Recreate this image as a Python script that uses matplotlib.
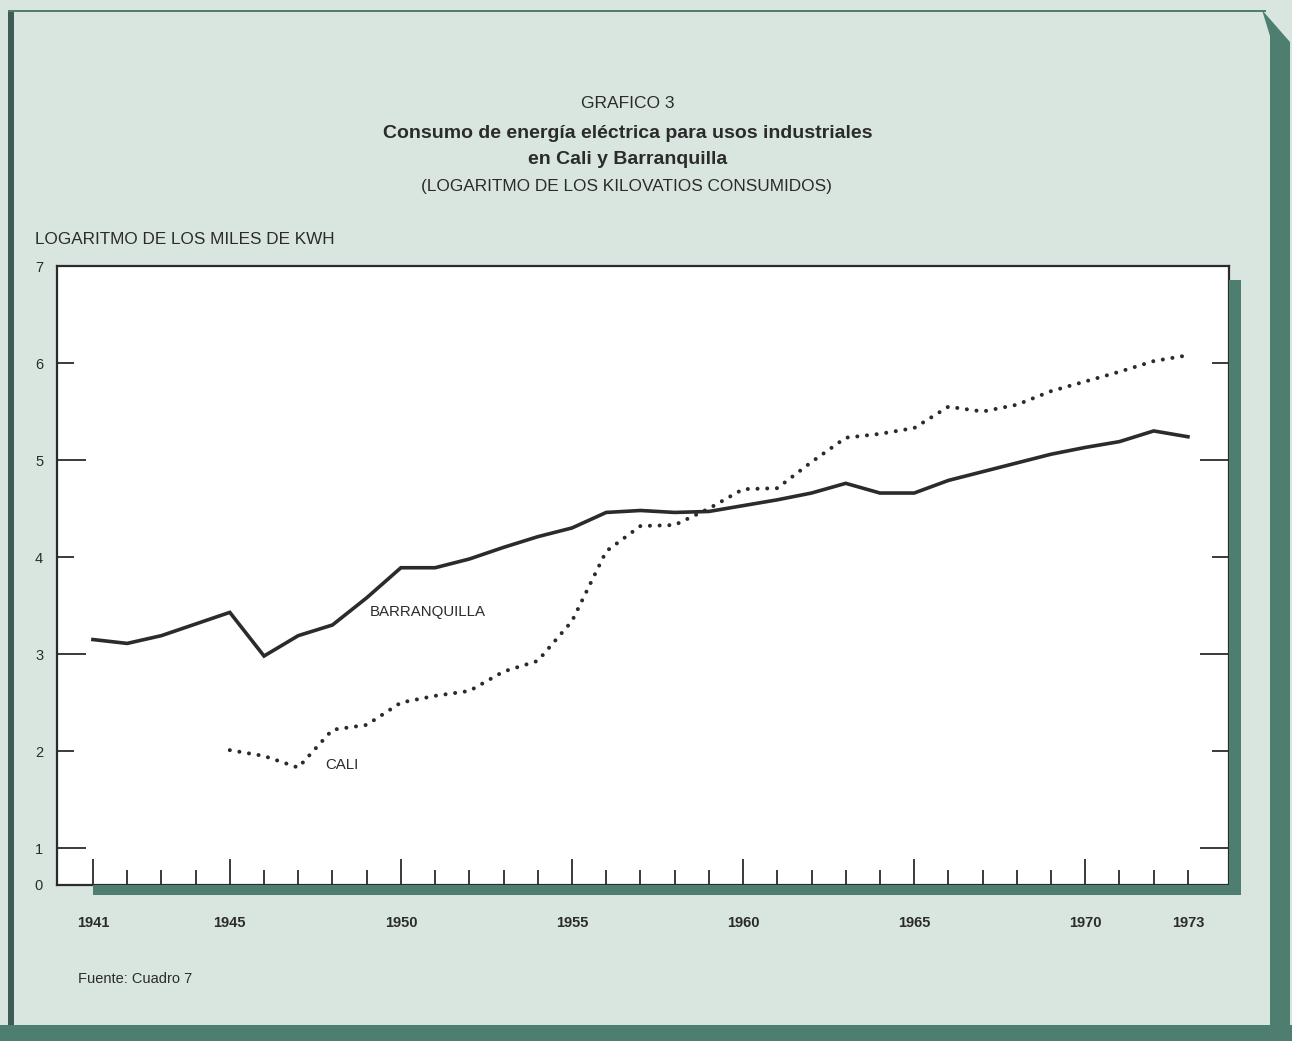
import matplotlib
matplotlib.use("Agg")
import matplotlib.pyplot as plt
from matplotlib.patches import Rectangle, Polygon

plt.rcParams["font.family"] = ["Liberation Sans", "DejaVu Sans"]

# datos (logaritmo de miles de kWh)
years_barr = list(range(1941, 1974))
barranquilla = [3.15, 3.11, 3.19, 3.31, 3.43, 2.98, 3.19, 3.30, 3.58, 3.89,
                3.89, 3.98, 4.10, 4.21, 4.30, 4.46, 4.48, 4.46, 4.47, 4.53,
                4.59, 4.66, 4.76, 4.66, 4.66, 4.79, 4.88, 4.97, 5.06, 5.13,
                5.19, 5.30, 5.24]
years_cali = list(range(1945, 1974))
cali = [2.01, 1.95, 1.83, 2.22, 2.27, 2.50, 2.57, 2.62, 2.82, 2.93,
        3.34, 4.06, 4.32, 4.33, 4.50, 4.70, 4.71, 4.98, 5.23, 5.27,
        5.33, 5.55, 5.50, 5.57, 5.71, 5.81, 5.91, 6.02, 6.08]
xlabels = {1941: "1941", 1945: "1945", 1950: "1950", 1955: "1955",
           1960: "1960", 1965: "1965", 1970: "1970", 1973: "1973"}
major_years = [1941, 1945, 1950, 1955, 1960, 1965, 1970]
ytick_vals = [0.62, 1, 2, 3, 4, 5, 6, 7]
ytick_labels = ["0", "1", "2", "3", "4", "5", "6", "7"]

W, H = 1292, 1041
bg = "#d9e6e0"
teal = "#4e7e6f"
ink = "#2b2b2b"


def fx(x):
    return x / W


def fy(y):
    return 1 - y / H


fig = plt.figure(figsize=(W / 100, H / 100), dpi=100)
fig.patch.set_facecolor(bg)

# marco de la pagina
fig.add_artist(Rectangle((fx(8), 0), fx(6), fy(10), transform=fig.transFigure,
                         color="#3d5d54", lw=0))
fig.add_artist(Rectangle((fx(8), fy(12)), fx(1258), 2 / H, transform=fig.transFigure,
                         color=teal, lw=0))
fig.add_artist(Polygon([(fx(1262), fy(10)), (fx(1290), fy(42)), (fx(1290), 0),
                        (fx(1270), 0), (fx(1270), fy(36))],
                       closed=True, transform=fig.transFigure, color=teal, lw=0))
fig.add_artist(Rectangle((0, 0), 1, 16 / H, transform=fig.transFigure,
                         color=teal, lw=0))

ax = fig.add_axes([fx(57), fy(885), fx(1229 - 57), (885 - 266) / H])
ax.set_facecolor("white")

# sombra del recuadro
fig.add_artist(Rectangle((fx(93), fy(895)), fx(1240 - 93), 10 / H,
                         transform=fig.transFigure, color=teal, lw=0, zorder=0.5))
fig.add_artist(Rectangle((fx(1229), fy(895)), fx(12), (895 - 280) / H,
                         transform=fig.transFigure, color=teal, lw=0, zorder=0.5))

ax.plot(years_barr, barranquilla, color=ink, lw=2.6, solid_joinstyle="miter")
ax.plot(years_cali, cali, color=ink, lw=2.9, linestyle=(0, (0.01, 2.4)),
        dash_capstyle="round")

ax.set_xlim(1939.95, 1974.2)
ax.set_ylim(0.62, 7)

for s in ax.spines.values():
    s.set_color(ink)
    s.set_linewidth(1.6)

ax.set_xticks(years_barr)
ax.set_xticklabels([xlabels.get(y, "") for y in years_barr])
ax.tick_params(axis="x", direction="in", width=1.3, color=ink, pad=22,
               labelsize=10.5, labelcolor=ink)
for t, y in zip(ax.xaxis.get_major_ticks(), years_barr):
    t.tick1line.set_markersize(19 if y in major_years else 11)
    t.label1.set_fontweight("bold")

ax.set_yticks(ytick_vals)
ax.set_yticklabels(ytick_labels)
ax.tick_params(axis="y", direction="in", width=1.3, color=ink, pad=10,
               labelsize=10.5, labelcolor=ink, right=True)
for t, v in zip(ax.yaxis.get_major_ticks(), ytick_vals):
    if v in (0.62, 7):
        t.tick1line.set_visible(False)
        t.tick2line.set_visible(False)
    else:
        ln = 21 if v % 2 == 1 else 12
        t.tick1line.set_markersize(ln)
        t.tick2line.set_markersize(ln)

ax.text(1949.1, 3.43, "BARRANQUILLA", fontsize=10.8, color=ink, va="center")
ax.text(1947.8, 1.86, "CALI", fontsize=10.8, color=ink, va="center")

fig.text(fx(628), fy(103), "GRAFICO 3", ha="center", va="center",
         fontsize=12.5, color=ink)
fig.text(fx(628), fy(134), "Consumo de energía eléctrica para usos industriales",
         ha="center", va="center", fontsize=14, fontweight="bold", color=ink)
fig.text(fx(628), fy(160), "en Cali y Barranquilla", ha="center", va="center",
         fontsize=14, fontweight="bold", color=ink)
fig.text(fx(626), fy(187), "(LOGARITMO DE LOS KILOVATIOS CONSUMIDOS)",
         ha="center", va="center", fontsize=12.4, color=ink)
fig.text(fx(35), fy(240), "LOGARITMO DE LOS MILES DE KWH", ha="left",
         va="center", fontsize=12.3, color=ink)
fig.text(fx(78), fy(979), "Fuente: Cuadro 7", ha="left", va="center",
         fontsize=10.5, color=ink)

fig.savefig("out.png", dpi=100, facecolor=fig.get_facecolor())
